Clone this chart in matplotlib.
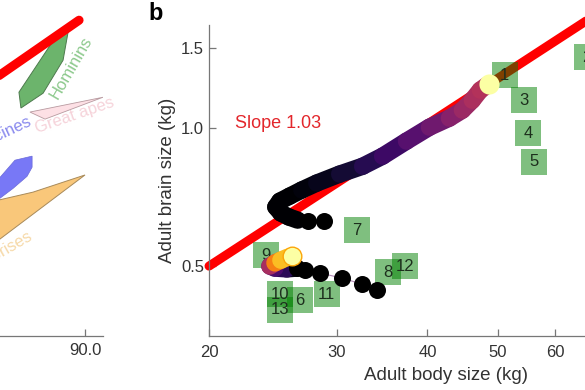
import numpy as np
import matplotlib
matplotlib.use("Agg")
import matplotlib.pyplot as plt
from matplotlib.collections import LineCollection
from matplotlib.patches import Polygon

plt.rcParams['font.family'] = ['Liberation Sans', 'DejaVu Sans']

# ---------------------------------------------------------------------------
# Panel a (only its right edge is visible in this crop)
# ---------------------------------------------------------------------------
a_red_x = [30.0, 86.7]
a_red_y = [73.0, 94.0]

hominins_poly = [(54.4, 67.9), (53.3, 72.6), (73.3, 88.7), (80.6, 90.5), (77.8, 82.1), (66.7, 72.3)]
great_apes_poly = [(59.4, 66.7), (67.8, 64.6), (100.0, 71.1)]
cerco_poly = [(34.4, 43.8), (42.8, 47.3), (51.1, 52.4), (60.6, 53.6), (60.6, 50.3),
              (57.8, 47.6), (50.0, 44.0), (42.8, 41.1), (34.4, 37.8)]
lemur_poly = [(34.4, 39.6), (61.1, 42.9), (90.0, 48.0), (34.4, 25.6)]

a_labels = ["Hominins", "Great apes", "Cercopithecines", "Lemurs and lorises"]
a_label_x = [82.2, 84.4, 59.5, 60.0]
a_label_y = [79.8, 65.8, 64.0, 30.0]

# ---------------------------------------------------------------------------
# Panel b
# ---------------------------------------------------------------------------
fit_x = [20.0, 90.0]
fit_slope = 1.03
fit_y0 = 0.5

# trajectory 1: sparse early points, then the dense part
traj1_dots_x = [28.78, 27.36]
traj1_dots_y = [0.627, 0.627]
traj1_x = [26.50, 25.76, 25.12, 24.72, 25.04, 25.84, 26.84, 28.15, 30.27, 32.56,
           34.69, 37.42, 40.25, 42.88, 44.68, 46.11, 47.30, 48.36]
traj1_y = [0.630, 0.640, 0.653, 0.673, 0.693, 0.711, 0.733, 0.759, 0.794, 0.826,
           0.869, 0.937, 1.005, 1.052, 1.095, 1.151, 1.211, 1.242]
traj1_c = [0.0, 0.0, 0.0, 0.0, 0.0, 0.0, 0.0, 0.02, 0.05, 0.09,
           0.14, 0.19, 0.25, 0.31, 0.37, 0.42, 0.46, 0.48]
traj1_end = (48.66, 1.248)

# trajectory 2
traj2_dots_x = [34.03, 32.46, 30.46, 28.42, 27.10, 26.42]
traj2_dots_y = [0.443, 0.457, 0.471, 0.483, 0.490, 0.495]
traj2_x = [26.42, 25.60, 24.65, 24.26, 24.65, 25.12, 25.68]
traj2_y = [0.495, 0.493, 0.495, 0.500, 0.508, 0.515, 0.523]
traj2_c = [0.0, 0.05, 0.15, 0.22, 0.45, 0.72, 0.85]
traj2_end = (26.01, 0.526)

# fossil / species boxes
box_labels = ["1", "2", "3", "4", "5", "6", "7", "8", "9", "10", "11", "12", "13"]
box_x = [51.11, 66.36, 54.28, 55.05, 56.02, 26.67, 31.94, 35.24, 23.95, 25.04, 29.05, 37.30, 25.04]
box_y = [1.306, 1.429, 1.151, 0.975, 0.845, 0.421, 0.599, 0.485, 0.528, 0.434, 0.434, 0.500, 0.401]

xticks_b = [20, 30, 40, 50, 60, 70, 80, 90]
yticks_b = [0.5, 1.0, 1.5]

cmap = plt.get_cmap("inferno")
axis_col = "#777777"
text_col = "#333333"

fig = plt.figure(figsize=(5.85, 3.9), dpi=100)

# ---- panel a ----
ax_a = fig.add_axes([-0.1316, 0.1372, 0.3077, 0.8628])
ax_a.set_xlim(0, 100)
ax_a.set_ylim(0, 100)
for name in ["top", "right", "left"]:
    ax_a.spines[name].set_visible(False)
ax_a.spines["bottom"].set_color(axis_col)
ax_a.spines["bottom"].set_linewidth(0.9)
ax_a.set_yticks([])
ax_a.set_xticks([90])
ax_a.set_xticklabels(["90.0"])
ax_a.tick_params(axis="x", direction="in", length=5, width=0.9, color=axis_col,
                 labelsize=12, labelcolor=text_col, pad=5)

ax_a.add_patch(Polygon(lemur_poly, closed=True, facecolor="#f9c77a", edgecolor="#a88a5a", lw=0.7))
ax_a.add_patch(Polygon(cerco_poly, closed=True, facecolor="#7878f6", edgecolor="#6a6ad8", lw=0.5))
ax_a.add_patch(Polygon(great_apes_poly, closed=True, facecolor="#fde0e5", edgecolor="#b89aa0", lw=0.6))
ax_a.add_patch(Polygon(hominins_poly, closed=True, facecolor="#6cb46c", edgecolor="#4d7a4d", lw=0.7))
ax_a.plot(a_red_x, a_red_y, color="#ff0000", lw=6.5, solid_capstyle="round", zorder=5)

a_colors = ["#8cc98c", "#f6d3da", "#8a8aee", "#f6d9a8"]
a_rot = [60, 19, 25, 30]
a_ha = ["center", "center", "right", "right"]
for lab, x, y, c, r, ha in zip(a_labels, a_label_x, a_label_y, a_colors, a_rot, a_ha):
    ax_a.text(x, y, lab, color=c, rotation=r, ha=ha, va="center",
              rotation_mode="anchor", fontsize=12)

# ---- panel b ----
ax = fig.add_axes([0.3573, 0.1372, 0.8103, 0.7987])
ax.set_xscale("log")
ax.set_yscale("log")
ax.set_xlim(20, 90)
ax.set_ylim(0.351, 1.68)
for name in ["top", "right"]:
    ax.spines[name].set_visible(False)
for name in ["left", "bottom"]:
    ax.spines[name].set_color(axis_col)
    ax.spines[name].set_linewidth(0.9)
ax.set_xticks(xticks_b)
ax.set_xticklabels([str(v) for v in xticks_b])
ax.set_yticks(yticks_b)
ax.set_yticklabels([f"{v:.1f}" for v in yticks_b])
ax.minorticks_off()
ax.tick_params(direction="in", length=5, width=0.9, color=axis_col,
               labelsize=12, labelcolor=text_col)
ax.tick_params(axis="x", pad=6)
ax.set_xlabel("Adult body size (kg)", fontsize=13.5, color=text_col, labelpad=5)
ax.set_ylabel("Adult brain size (kg)", fontsize=13.5, color=text_col, labelpad=4)

# allometric fit
fx = np.array(fit_x)
ax.plot(fx, fit_y0 * (fx / fit_x[0]) ** fit_slope, color="#ff0000", lw=6.5,
        solid_capstyle="round", zorder=2, clip_on=False)
ax.text(21.7, 1.026, "Slope 1.03", color="#e3262b", fontsize=13, va="center")

# boxes (above the fit line, below the trajectories)
ax.scatter(box_x, box_y, marker="s", s=370, color="green", alpha=0.5, lw=0, zorder=3,
           clip_on=False)
for lab, x, y in zip(box_labels, box_x, box_y):
    ax.text(x, y, lab, ha="center", va="center", fontsize=12, color="#1d2f1d", zorder=3.5)


# trajectories
def thick_path(xs, ys, cs, lw):
    pts = np.column_stack([xs, ys])
    segs = np.stack([pts[:-1], pts[1:]], axis=1)
    lc = LineCollection(segs, colors=cmap(np.array(cs[1:])), linewidths=lw,
                        capstyle="round", joinstyle="round", zorder=5)
    ax.add_collection(lc)


ax.plot(traj2_dots_x + traj2_x, traj2_dots_y + traj2_y, color="#b58ab8", lw=0.8, zorder=4)
thick_path(traj1_x, traj1_y, traj1_c, 12.5)
thick_path(traj2_x, traj2_y, traj2_c, 12.5)
ax.scatter(traj1_dots_x, traj1_dots_y, s=150, color="black", lw=0, zorder=5)
ax.scatter(traj2_dots_x, traj2_dots_y, s=150, color="black", lw=0, zorder=5)
ax.scatter([traj1_end[0]], [traj1_end[1]], s=210, color=cmap(1.0), lw=0, zorder=6)
ax.scatter([traj2_end[0]], [traj2_end[1]], s=180, color=cmap(1.0),
           edgecolor=cmap(0.8), lw=1.0, zorder=6)

fig.text(0.253, 0.965, "b", fontsize=17, fontweight="bold", va="center", ha="left")

fig.savefig("out.png", dpi=100)
